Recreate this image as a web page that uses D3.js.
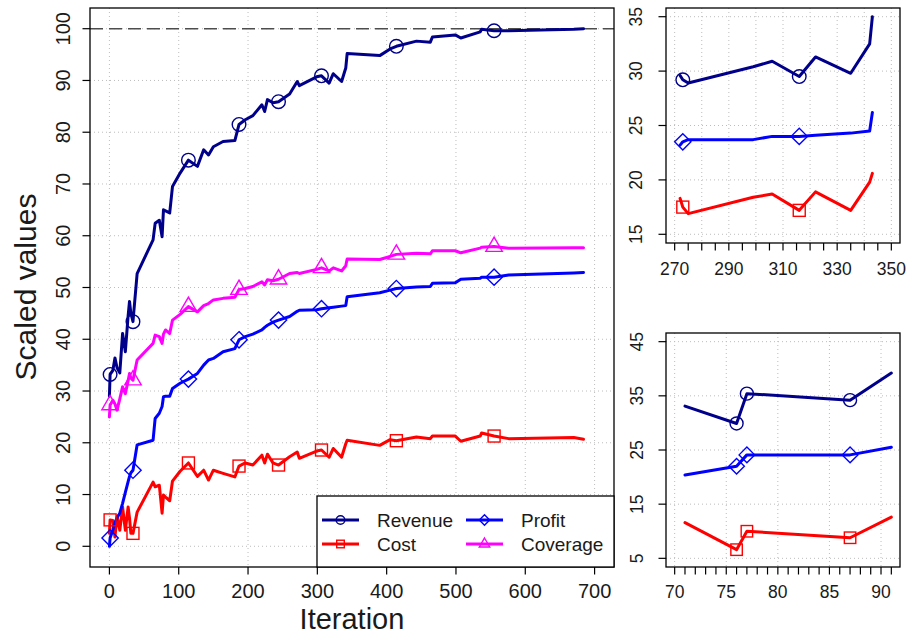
<!DOCTYPE html>
<html>
<head>
<meta charset="utf-8">
<script src="https://cdn.jsdelivr.net/npm/d3@7"></script>
<style>
    body { margin: 0; background: #fff; }
    svg { display: block; font-family: "Liberation Sans", Arial, Helvetica, sans-serif; }
</style>
</head>
<body>
<div id="chart"></div>
<script>
// Main panel data (shared iteration axis)
var iterations = [0, 1, 5, 8, 11, 15, 19, 23, 27, 29, 31, 34, 40, 63, 66, 72, 76, 78, 81, 87,
    91, 102, 114, 127, 136, 143, 150, 164, 181, 187, 196, 207, 220, 224, 228, 236, 244, 260, 271, 274,
    299, 306, 317, 323, 335, 341, 343, 390, 405, 414, 443, 463, 466, 499, 507, 535, 537, 555, 576, 670, 684];
var revenue = [29.0, 33.2, 34.0, 36.4, 34.5, 33.5, 41.1, 37.6, 44.5, 47.3, 45.0, 43.4, 52.7, 59.2, 62.4, 63.0, 59.8, 65.0, 64.8, 64.4,
    69.5, 72.1, 74.6, 73.4, 76.6, 75.6, 77.2, 78.2, 78.4, 81.5, 82.4, 83.2, 85.3, 84.0, 86.3, 85.7, 85.9, 87.4, 89.8, 89.0,
    90.7, 90.9, 89.5, 91.3, 89.8, 92.4, 95.2, 94.8, 96.1, 96.6, 97.6, 97.4, 98.4, 98.8, 98.2, 99.4, 99.9, 99.6, 99.6, 99.9, 100.0];
var profit = [0.0, 1.6, 3.2, 4.6, 5.5, 6.4, 8.3, 10.4, 12.5, 13.5, 14.2, 14.7, 19.6, 20.5, 24.7, 25.7, 27.0, 28.9, 29.0, 29.0,
    30.5, 31.5, 32.3, 33.4, 35.0, 36.0, 36.3, 37.6, 38.2, 39.9, 40.5, 41.0, 41.8, 42.3, 42.7, 43.3, 43.7, 44.4, 45.4, 45.6,
    45.7, 45.9, 46.1, 46.2, 46.4, 46.5, 48.2, 49.0, 49.5, 49.8, 50.1, 50.2, 50.8, 50.9, 51.6, 51.8, 52.0, 52.0, 52.4, 52.8, 52.9];
var cost = [2.5, 5.1, 5.0, 1.8, 5.8, 3.1, 7.6, 3.1, 7.6, 5.5, 2.5, 2.5, 6.6, 12.4, 11.5, 11.8, 6.4, 9.9, 9.5, 8.8,
    12.6, 14.5, 16.1, 13.5, 14.7, 12.8, 14.7, 14.1, 13.4, 15.5, 16.1, 15.7, 17.6, 16.1, 17.8, 16.1, 15.7, 17.3, 18.2, 17.0,
    18.4, 18.6, 17.2, 18.9, 17.2, 19.8, 20.5, 19.5, 20.6, 20.4, 21.1, 20.8, 21.3, 21.3, 20.3, 21.3, 21.9, 21.3, 20.8, 21.0, 20.7];
var coverage = [25.0, 27.3, 28.2, 27.5, 26.3, 28.5, 30.8, 29.5, 32.0, 33.4, 32.5, 32.1, 36.0, 39.2, 40.8, 40.5, 39.2, 41.0, 41.8, 41.1,
    43.7, 44.8, 46.3, 45.3, 46.5, 46.9, 47.6, 47.9, 48.1, 49.6, 49.8, 50.2, 51.1, 50.5, 51.5, 51.3, 51.6, 52.7, 52.9, 52.7,
    53.5, 53.8, 53.2, 53.8, 53.2, 54.2, 55.5, 55.4, 56.0, 56.4, 56.6, 56.5, 57.1, 57.1, 56.7, 57.6, 57.8, 57.9, 57.6, 57.7, 57.7];
var markerIterations = [1, 34, 114, 187, 244, 306, 414, 555];
var mainXTicks = [0, 100, 200, 300, 400, 500, 600, 700];
var mainYTicks = [0, 10, 20, 30, 40, 50, 60, 70, 80, 90, 100];
var targetLevel = 100;

// Top right inset
var topIterations = [272, 273, 275, 299, 306, 316, 322, 335, 342, 343];
var topRevenue = [29.6, 29.2, 28.9, 30.4, 30.9, 29.5, 31.3, 29.8, 32.5, 35.0];
var topProfit = [23.2, 23.5, 23.7, 23.7, 24.0, 24.0, 24.1, 24.3, 24.5, 26.2];
var topCost = [18.3, 17.5, 16.9, 18.4, 18.7, 17.2, 18.9, 17.2, 19.8, 20.6];
var topMarkers = [273, 316];
var topXLabels = [270, 290, 310, 330, 350];
var topXGrid = [270, 280, 290, 300, 310, 320, 330, 340, 350];
var topYTicks = [15, 20, 25, 30, 35];

// Bottom right inset
var bottomIterations = [71, 76, 77, 87, 91];
var bottomRevenue = [33.1, 29.9, 35.4, 34.2, 39.2];
var bottomProfit = [20.4, 22.0, 24.1, 24.1, 25.5];
var bottomCost = [11.6, 6.6, 10.0, 8.8, 12.6];
var bottomMarkers = [76, 77, 87];
var bottomXLabels = [70, 75, 80, 85, 90];
var bottomXGrid = [70, 75, 80, 85, 90];
var bottomYTicks = [5, 15, 25, 35, 45];

var seriesNames = ['Revenue', 'Cost', 'Profit', 'Coverage'];

// Styles
var colors = { Revenue: '#00008b', Profit: '#0000ff', Cost: '#ff0000', Coverage: '#ff00ff' };
var shapes = { Revenue: 'circle', Profit: 'diamond', Cost: 'square', Coverage: 'triangle' };

var width = 908, height = 636;
var svg = d3.select('#chart').append('svg')
    .attr('width', width).attr('height', height);
svg.append('rect').attr('width', width).attr('height', height).attr('fill', '#fff');

// Marker drawing, size = nominal radius
function drawMarker(g, shape, x, y, size, color) {
    var s;
    if (shape === 'circle') {
        s = g.append('circle').attr('cx', x).attr('cy', y).attr('r', size);
    } else if (shape === 'square') {
        s = g.append('rect').attr('x', x - size * 0.88).attr('y', y - size * 0.88)
            .attr('width', size * 1.76).attr('height', size * 1.76);
    } else if (shape === 'diamond') {
        var d = size * 1.2;
        s = g.append('path').attr('d', 'M' + x + ',' + (y - d) + 'L' + (x + d) + ',' + y +
            'L' + x + ',' + (y + d) + 'L' + (x - d) + ',' + y + 'Z');
    } else {
        var r = size * 1.4;
        s = g.append('path').attr('d', 'M' + x + ',' + (y - r) +
            'L' + (x + r * 0.866) + ',' + (y + r / 2) + 'L' + (x - r * 0.866) + ',' + (y + r / 2) + 'Z');
    }
    s.attr('fill', 'none').attr('stroke', color).attr('stroke-width', 1.4);
}

// Generic panel
function drawPanel(cfg) {
    var g = svg.append('g');
    var x = d3.scaleLinear().domain(cfg.xDomain).range([cfg.box.x0, cfg.box.x1]);
    var y = d3.scaleLinear().domain(cfg.yDomain).range([cfg.box.y1, cfg.box.y0]);

    // grid
    var grid = g.append('g').attr('stroke', '#bdbdbd').attr('stroke-width', 1)
        .attr('stroke-dasharray', '1,3');
    cfg.xGrid.forEach(function(v) {
        grid.append('line').attr('x1', x(v)).attr('x2', x(v))
            .attr('y1', cfg.box.y0).attr('y2', cfg.box.y1);
    });
    cfg.yTicks.forEach(function(v) {
        grid.append('line').attr('x1', cfg.box.x0).attr('x2', cfg.box.x1)
            .attr('y1', y(v)).attr('y2', y(v));
    });

    if (cfg.refLine !== undefined) {
        g.append('line').attr('x1', cfg.box.x0).attr('x2', cfg.box.x1)
            .attr('y1', y(cfg.refLine)).attr('y2', y(cfg.refLine))
            .attr('stroke', '#4d4d4d').attr('stroke-width', 1.4).attr('stroke-dasharray', '13,6');
    }

    // lines + markers
    var line = d3.line().x(function(d) { return x(d[0]); }).y(function(d) { return y(d[1]); });
    cfg.series.forEach(function(s) {
        var pts = cfg.iterations.map(function(it, i) { return [it, s.values[i]]; });
        g.append('path').datum(pts).attr('d', line)
            .attr('fill', 'none').attr('stroke', colors[s.name])
            .attr('stroke-width', 3).attr('stroke-linejoin', 'round').attr('stroke-linecap', 'round');
    });
    cfg.series.forEach(function(s) {
        cfg.iterations.forEach(function(it, i) {
            if (cfg.markers.indexOf(it) >= 0) {
                drawMarker(g, shapes[s.name], x(it), y(s.values[i]), cfg.markerSize, colors[s.name]);
            }
        });
    });

    // box
    g.append('rect').attr('x', cfg.box.x0).attr('y', cfg.box.y0)
        .attr('width', cfg.box.x1 - cfg.box.x0).attr('height', cfg.box.y1 - cfg.box.y0)
        .attr('fill', 'none').attr('stroke', '#000').attr('stroke-width', 1.3);

    // x ticks
    var ax = g.append('g').attr('stroke', '#000').attr('stroke-width', 1.2);
    cfg.xTicks.forEach(function(v) {
        ax.append('line').attr('x1', x(v)).attr('x2', x(v))
            .attr('y1', cfg.box.y1).attr('y2', cfg.box.y1 + 7.5);
    });
    cfg.yTicks.forEach(function(v) {
        ax.append('line').attr('x1', cfg.box.x0).attr('x2', cfg.box.x0 - 7.5)
            .attr('y1', y(v)).attr('y2', y(v));
    });
    cfg.xLabels.forEach(function(v) {
        g.append('text').attr('x', x(v)).attr('y', cfg.box.y1 + cfg.xLabelOffset)
            .attr('text-anchor', 'middle').style('font-size', cfg.fontSize + 'px')
            .attr('fill', '#1a1a1a').text(v);
    });
    cfg.yTicks.forEach(function(v) {
        g.append('text')
            .attr('transform', 'translate(' + (cfg.box.x0 - cfg.yLabelOffset) + ',' + y(v) + ') rotate(-90)')
            .attr('text-anchor', 'middle').style('font-size', cfg.fontSize + 'px')
            .attr('fill', '#1a1a1a').text(v);
    });
    return { x: x, y: y };
}

// Main panel
drawPanel({
    box: { x0: 90, x1: 614, y0: 8, y1: 567 },
    xDomain: [-28, 728], yDomain: [-4, 104],
    iterations: iterations,
    series: [
        { name: 'Cost', values: cost },
        { name: 'Profit', values: profit },
        { name: 'Coverage', values: coverage },
        { name: 'Revenue', values: revenue }
    ],
    markers: markerIterations, markerSize: 6.8,
    xTicks: mainXTicks, xLabels: mainXTicks, xGrid: mainXTicks, yTicks: mainYTicks,
    refLine: targetLevel, fontSize: 20, xLabelOffset: 31, yLabelOffset: 20
});

// Top right inset
drawPanel({
    box: { x0: 666, x1: 900, y0: 8, y1: 243 },
    xDomain: [266.8, 353.2], yDomain: [14.2, 35.8],
    iterations: topIterations,
    series: [
        { name: 'Cost', values: topCost },
        { name: 'Profit', values: topProfit },
        { name: 'Revenue', values: topRevenue }
    ],
    markers: topMarkers, markerSize: 6.8,
    xTicks: d3.range(270, 351, 5), xLabels: topXLabels, xGrid: topXGrid, yTicks: topYTicks,
    fontSize: 17.5, xLabelOffset: 32, yLabelOffset: 24
});

// Bottom right inset
drawPanel({
    box: { x0: 666, x1: 900, y0: 333, y1: 567 },
    xDomain: [69.16, 91.84], yDomain: [3.4, 46.6],
    iterations: bottomIterations,
    series: [
        { name: 'Cost', values: bottomCost },
        { name: 'Profit', values: bottomProfit },
        { name: 'Revenue', values: bottomRevenue }
    ],
    markers: bottomMarkers, markerSize: 6.5,
    xTicks: d3.range(70, 92, 1), xLabels: bottomXLabels, xGrid: bottomXGrid, yTicks: bottomYTicks,
    fontSize: 17.5, xLabelOffset: 31, yLabelOffset: 23
});

// Axis titles
svg.append('text').attr('x', 352).attr('y', 629)
    .attr('text-anchor', 'middle').style('font-size', '29px').attr('fill', '#1a1a1a')
    .text('Iteration');
svg.append('text').attr('transform', 'translate(36,287) rotate(-90)')
    .attr('text-anchor', 'middle').style('font-size', '30px').attr('fill', '#1a1a1a')
    .text('Scaled values');

// Legend
var legend = svg.append('g');
legend.append('rect').attr('x', 317).attr('y', 496).attr('width', 297).attr('height', 71)
    .attr('fill', '#fff').attr('stroke', '#000').attr('stroke-width', 1.3);
seriesNames.forEach(function(name, i) {
    var col = Math.floor(i / 2), row = i % 2;
    var lx = 322 + col * 144, ly = 520 + row * 24;
    legend.append('line').attr('x1', lx).attr('x2', lx + 37).attr('y1', ly).attr('y2', ly)
        .attr('stroke', colors[name]).attr('stroke-width', 3);
    drawMarker(legend, shapes[name], lx + 18.5, ly, 4.3, colors[name]);
    legend.append('text').attr('x', lx + 55).attr('y', ly + 7)
        .style('font-size', '19px').attr('fill', '#1a1a1a').text(name);
});
</script>
</body>
</html>
